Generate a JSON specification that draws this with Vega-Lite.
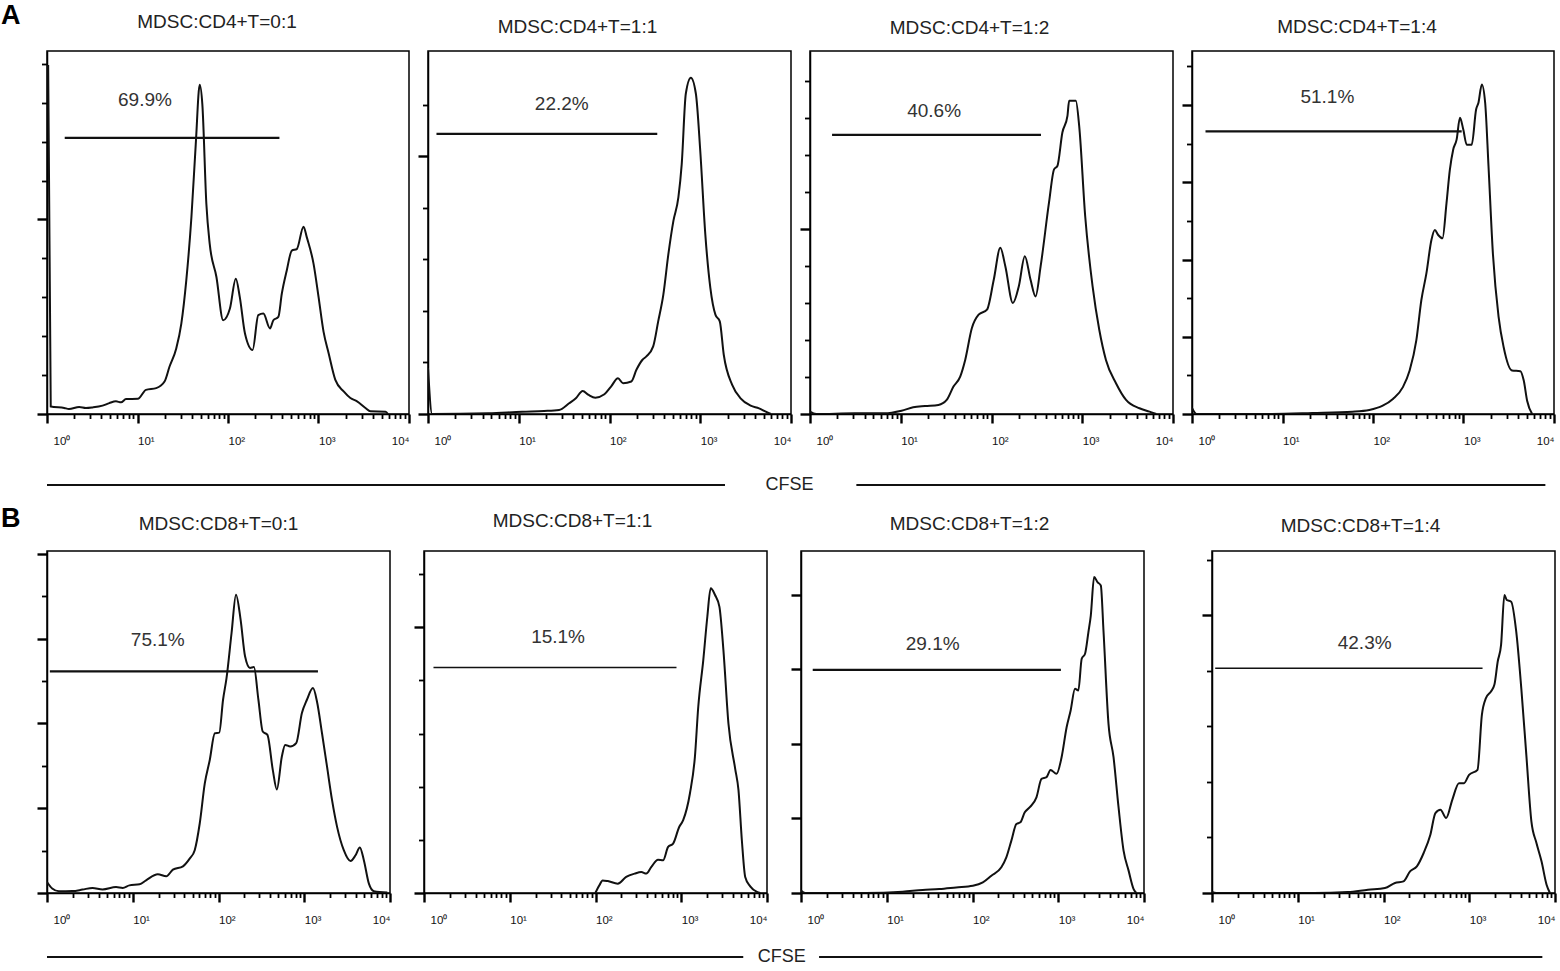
{
"$schema": "https://vega.github.io/schema/vega-lite/v6.json",
"background": "white",
"padding": {"left": 1, "top": 2, "right": 0, "bottom": 0},
"datasets": {
"curves": [
{"panel":"A1","cfse":1.03,"count":17.94},{"panel":"A1","cfse":1.10,"count":0.39},{"panel":"A1","cfse":1.55,"count":0.31},{"panel":"A1","cfse":1.75,"count":0.26},{"panel":"A1","cfse":2.27,"count":0.36},{"panel":"A1","cfse":2.69,"count":0.31},{"panel":"A1","cfse":3.19,"count":0.34},{"panel":"A1","cfse":4.11,"count":0.43},{"panel":"A1","cfse":4.88,"count":0.56},{"panel":"A1","cfse":5.78,"count":0.65},{"panel":"A1","cfse":6.58,"count":0.60},{"panel":"A1","cfse":7.47,"count":0.77},{"panel":"A1","cfse":10.1,"count":0.78},{"panel":"A1","cfse":12.4,"count":1.24},{"panel":"A1","cfse":16.1,"count":1.33},{"panel":"A1","cfse":19.9,"count":1.67},{"panel":"A1","cfse":22.6,"count":2.44},{"panel":"A1","cfse":26.8,"count":3.37},{"panel":"A1","cfse":30.5,"count":4.65},{"panel":"A1","cfse":34.6,"count":6.87},{"panel":"A1","cfse":39.4,"count":10.10},{"panel":"A1","cfse":44.0,"count":13.85},{"panel":"A1","cfse":48.7,"count":16.92},{"panel":"A1","cfse":52.1,"count":15.89},{"panel":"A1","cfse":57.7,"count":10.78},{"panel":"A1","cfse":62.8,"count":8.74},{"panel":"A1","cfse":74.5,"count":7.04},{"panel":"A1","cfse":88.4,"count":4.82},{"panel":"A1","cfse":105,"count":5.42},{"panel":"A1","cfse":122,"count":6.95},{"panel":"A1","cfse":135,"count":6.01},{"panel":"A1","cfse":154,"count":4.14},{"panel":"A1","cfse":187,"count":3.29},{"panel":"A1","cfse":216,"count":5.08},{"panel":"A1","cfse":246,"count":5.16},{"panel":"A1","cfse":291,"count":4.40},{"panel":"A1","cfse":317,"count":4.82},{"panel":"A1","cfse":360,"count":4.99},{"panel":"A1","cfse":393,"count":6.18},{"panel":"A1","cfse":446,"count":7.38},{"panel":"A1","cfse":507,"count":8.40},{"panel":"A1","cfse":576,"count":8.48},{"panel":"A1","cfse":683,"count":9.63},{"panel":"A1","cfse":743,"count":9.08},{"panel":"A1","cfse":882,"count":7.72},{"panel":"A1","cfse":1002,"count":6.01},{"panel":"A1","cfse":1138,"count":4.22},{"panel":"A1","cfse":1294,"count":3.12},{"panel":"A1","cfse":1535,"count":1.75},{"panel":"A1","cfse":1898,"count":1.16},{"panel":"A1","cfse":2251,"count":0.82},{"panel":"A1","cfse":2669,"count":0.65},{"panel":"A1","cfse":3302,"count":0.31},{"panel":"A1","cfse":3750,"count":0.14},{"panel":"A1","cfse":5510,"count":0.12},{"panel":"A1","cfse":5850,"count":0},
{"panel":"A2","cfse":1.0,"count":3.56},{"panel":"A2","cfse":1.11,"count":0},{"panel":"A2","cfse":4.64,"count":0.05},{"panel":"A2","cfse":10.9,"count":0.18},{"panel":"A2","cfse":19.0,"count":0.23},{"panel":"A2","cfse":27.8,"count":0.31},{"panel":"A2","cfse":35.9,"count":0.83},{"panel":"A2","cfse":42.6,"count":1.22},{"panel":"A2","cfse":50.6,"count":1.79},{"panel":"A2","cfse":58.9,"count":1.48},{"panel":"A2","cfse":69.8,"count":1.27},{"panel":"A2","cfse":87.9,"count":1.53},{"panel":"A2","cfse":104,"count":2.13},{"panel":"A2","cfse":124,"count":2.78},{"panel":"A2","cfse":141,"count":2.39},{"panel":"A2","cfse":174,"count":2.52},{"panel":"A2","cfse":198,"count":3.43},{"panel":"A2","cfse":231,"count":4.21},{"panel":"A2","cfse":255,"count":4.47},{"panel":"A2","cfse":303,"count":5.25},{"panel":"A2","cfse":344,"count":7.19},{"panel":"A2","cfse":392,"count":9.27},{"panel":"A2","cfse":445,"count":12.39},{"panel":"A2","cfse":506,"count":14.99},{"panel":"A2","cfse":574,"count":16.81},{"panel":"A2","cfse":625,"count":19.40},{"panel":"A2","cfse":693,"count":24.86},{"panel":"A2","cfse":788,"count":26.10},{"panel":"A2","cfse":895,"count":24.86},{"panel":"A2","cfse":1000,"count":20.44},{"panel":"A2","cfse":1137,"count":13.95},{"panel":"A2","cfse":1292,"count":9.79},{"panel":"A2","cfse":1469,"count":7.71},{"panel":"A2","cfse":1641,"count":7.19},{"panel":"A2","cfse":1816,"count":4.60},{"panel":"A2","cfse":2249,"count":2.26},{"panel":"A2","cfse":2782,"count":1.22},{"panel":"A2","cfse":3594,"count":0.65},{"panel":"A2","cfse":4449,"count":0.44},{"panel":"A2","cfse":5277,"count":0.18},{"panel":"A2","cfse":5994,"count":0},
{"panel":"A3","cfse":1.0,"count":0.13},{"panel":"A3","cfse":1.17,"count":0},{"panel":"A3","cfse":3.10,"count":0.04},{"panel":"A3","cfse":6.66,"count":0.04},{"panel":"A3","cfse":10.2,"count":0.18},{"panel":"A3","cfse":13.7,"count":0.36},{"panel":"A3","cfse":18.5,"count":0.43},{"panel":"A3","cfse":26.0,"count":0.49},{"panel":"A3","cfse":32.1,"count":0.76},{"panel":"A3","cfse":38.1,"count":1.48},{"panel":"A3","cfse":45.2,"count":2.02},{"panel":"A3","cfse":51.3,"count":2.92},{"panel":"A3","cfse":60.8,"count":4.64},{"panel":"A3","cfse":72.1,"count":5.36},{"panel":"A3","cfse":89.2,"count":5.63},{"panel":"A3","cfse":106,"count":7.26},{"panel":"A3","cfse":125,"count":8.97},{"panel":"A3","cfse":142,"count":7.98},{"panel":"A3","cfse":172,"count":5.99},{"panel":"A3","cfse":200,"count":6.90},{"panel":"A3","cfse":233,"count":8.52},{"panel":"A3","cfse":269,"count":7.26},{"panel":"A3","cfse":306,"count":6.35},{"panel":"A3","cfse":348,"count":7.98},{"panel":"A3","cfse":430,"count":11.41},{"panel":"A3","cfse":489,"count":13.21},{"panel":"A3","cfse":532,"count":13.39},{"panel":"A3","cfse":604,"count":15.2},{"panel":"A3","cfse":687,"count":16.1},{"panel":"A3","cfse":717,"count":16.91},{"panel":"A3","cfse":849,"count":16.91},{"panel":"A3","cfse":925,"count":15.56},{"panel":"A3","cfse":1077,"count":10.69},{"panel":"A3","cfse":1299,"count":6.90},{"panel":"A3","cfse":1540,"count":4.55},{"panel":"A3","cfse":1824,"count":2.92},{"panel":"A3","cfse":2353,"count":1.66},{"panel":"A3","cfse":3038,"count":0.76},{"panel":"A3","cfse":4270,"count":0.31},{"panel":"A3","cfse":5511,"count":0.13},{"panel":"A3","cfse":6534,"count":0},
{"panel":"A4","cfse":1.0,"count":0.31},{"panel":"A4","cfse":1.12,"count":0},{"panel":"A4","cfse":7.64,"count":0},{"panel":"A4","cfse":21.3,"count":0.05},{"panel":"A4","cfse":59.4,"count":0.12},{"panel":"A4","cfse":91.0,"count":0.21},{"panel":"A4","cfse":128,"count":0.43},{"panel":"A4","cfse":166,"count":0.78},{"panel":"A4","cfse":214,"count":1.39},{"panel":"A4","cfse":254,"count":2.25},{"panel":"A4","cfse":301,"count":3.81},{"panel":"A4","cfse":342,"count":5.89},{"panel":"A4","cfse":389,"count":7.28},{"panel":"A4","cfse":442,"count":9.01},{"panel":"A4","cfse":482,"count":9.53},{"panel":"A4","cfse":525,"count":9.27},{"panel":"A4","cfse":586,"count":9.10},{"panel":"A4","cfse":649,"count":10.92},{"panel":"A4","cfse":707,"count":12.65},{"panel":"A4","cfse":769,"count":13.69},{"panel":"A4","cfse":839,"count":14.21},{"panel":"A4","cfse":914,"count":15.34},{"panel":"A4","cfse":995,"count":14.73},{"panel":"A4","cfse":1084,"count":13.95},{"panel":"A4","cfse":1233,"count":13.95},{"panel":"A4","cfse":1378,"count":15.77},{"panel":"A4","cfse":1463,"count":16.12},{"panel":"A4","cfse":1594,"count":17.07},{"panel":"A4","cfse":1735,"count":16.12},{"panel":"A4","cfse":1890,"count":12.82},{"panel":"A4","cfse":2112,"count":8.32},{"panel":"A4","cfse":2442,"count":5.03},{"panel":"A4","cfse":2775,"count":3.47},{"panel":"A4","cfse":3436,"count":2.25},{"panel":"A4","cfse":4252,"count":2.22},{"panel":"A4","cfse":4632,"count":1.73},{"panel":"A4","cfse":5047,"count":0.69},{"panel":"A4","cfse":5736,"count":0},
{"panel":"B1","cfse":1.0,"count":0.52},{"panel":"B1","cfse":1.15,"count":0.21},{"panel":"B1","cfse":1.38,"count":0.08},{"panel":"B1","cfse":1.98,"count":0.09},{"panel":"B1","cfse":2.59,"count":0.16},{"panel":"B1","cfse":3.40,"count":0.24},{"panel":"B1","cfse":4.45,"count":0.17},{"panel":"B1","cfse":6.38,"count":0.28},{"panel":"B1","cfse":7.64,"count":0.24},{"panel":"B1","cfse":9.14,"count":0.36},{"panel":"B1","cfse":12.0,"count":0.41},{"panel":"B1","cfse":14.3,"count":0.60},{"panel":"B1","cfse":19.6,"count":0.88},{"panel":"B1","cfse":24.6,"count":0.79},{"panel":"B1","cfse":29.4,"count":1.10},{"panel":"B1","cfse":38.5,"count":1.26},{"panel":"B1","cfse":46.1,"count":1.62},{"panel":"B1","cfse":52.8,"count":2.02},{"panel":"B1","cfse":60.4,"count":3.28},{"panel":"B1","cfse":69.2,"count":5.17},{"panel":"B1","cfse":79.1,"count":6.28},{"panel":"B1","cfse":90.6,"count":7.54},{"panel":"B1","cfse":102,"count":7.57},{"panel":"B1","cfse":113,"count":9.12},{"panel":"B1","cfse":124,"count":10.14},{"panel":"B1","cfse":142,"count":12.27},{"panel":"B1","cfse":160,"count":14.08},{"panel":"B1","cfse":181,"count":12.90},{"panel":"B1","cfse":204,"count":11.17},{"panel":"B1","cfse":233,"count":10.62},{"panel":"B1","cfse":259,"count":10.66},{"panel":"B1","cfse":292,"count":9.12},{"panel":"B1","cfse":328,"count":7.62},{"panel":"B1","cfse":372,"count":7.46},{"panel":"B1","cfse":430,"count":5.80},{"panel":"B1","cfse":479,"count":4.89},{"panel":"B1","cfse":548,"count":6.44},{"panel":"B1","cfse":599,"count":6.99},{"panel":"B1","cfse":685,"count":6.91},{"panel":"B1","cfse":806,"count":7.07},{"panel":"B1","cfse":939,"count":8.49},{"panel":"B1","cfse":1074,"count":9.12},{"panel":"B1","cfse":1264,"count":9.67},{"panel":"B1","cfse":1407,"count":9.04},{"panel":"B1","cfse":1611,"count":7.54},{"panel":"B1","cfse":1844,"count":5.96},{"panel":"B1","cfse":2110,"count":4.38},{"panel":"B1","cfse":2415,"count":3.12},{"panel":"B1","cfse":2891,"count":2.02},{"panel":"B1","cfse":3459,"count":1.51},{"panel":"B1","cfse":3962,"count":1.78},{"panel":"B1","cfse":4448,"count":2.15},{"panel":"B1","cfse":4955,"count":1.55},{"panel":"B1","cfse":5675,"count":0.44},{"panel":"B1","cfse":6497,"count":0.08},{"panel":"B1","cfse":9310,"count":0.02},
{"panel":"B2","cfse":99.6,"count":0},{"panel":"B2","cfse":111,"count":0.58},{"panel":"B2","cfse":121,"count":0.95},{"panel":"B2","cfse":139,"count":0.90},{"panel":"B2","cfse":182,"count":0.70},{"panel":"B2","cfse":228,"count":1.21},{"panel":"B2","cfse":286,"count":1.46},{"panel":"B2","cfse":342,"count":1.58},{"panel":"B2","cfse":391,"count":1.46},{"panel":"B2","cfse":448,"count":1.96},{"panel":"B2","cfse":536,"count":2.51},{"panel":"B2","cfse":614,"count":2.46},{"panel":"B2","cfse":703,"count":3.47},{"panel":"B2","cfse":804,"count":3.72},{"panel":"B2","cfse":946,"count":4.97},{"panel":"B2","cfse":1053,"count":5.48},{"panel":"B2","cfse":1262,"count":7.49},{"panel":"B2","cfse":1443,"count":10.25},{"panel":"B2","cfse":1579,"count":14.02},{"panel":"B2","cfse":1807,"count":17.54},{"panel":"B2","cfse":2014,"count":20.80},{"panel":"B2","cfse":2204,"count":22.94},{"panel":"B2","cfse":2477,"count":22.44},{"panel":"B2","cfse":2785,"count":21.56},{"panel":"B2","cfse":3103,"count":18.29},{"panel":"B2","cfse":3550,"count":12.76},{"panel":"B2","cfse":4252,"count":9.37},{"panel":"B2","cfse":4650,"count":7.74},{"panel":"B2","cfse":5091,"count":3.97},{"panel":"B2","cfse":5570,"count":1.21},{"panel":"B2","cfse":6371,"count":0.50},{"panel":"B2","cfse":7637,"count":0.08},{"panel":"B2","cfse":8350,"count":0},
{"panel":"B3","cfse":1.0,"count":0.13},{"panel":"B3","cfse":1.12,"count":0},{"panel":"B3","cfse":2.53,"count":0},{"panel":"B3","cfse":5.67,"count":0},{"panel":"B3","cfse":15.3,"count":0.07},{"panel":"B3","cfse":26.2,"count":0.16},{"panel":"B3","cfse":41.0,"count":0.21},{"panel":"B3","cfse":64.4,"count":0.30},{"panel":"B3","cfse":101,"count":0.39},{"panel":"B3","cfse":132,"count":0.57},{"panel":"B3","cfse":166,"count":0.93},{"panel":"B3","cfse":217,"count":1.38},{"panel":"B3","cfse":248,"count":1.91},{"panel":"B3","cfse":284,"count":2.81},{"panel":"B3","cfse":325,"count":3.70},{"panel":"B3","cfse":362,"count":3.79},{"panel":"B3","cfse":407,"count":4.33},{"panel":"B3","cfse":466,"count":4.60},{"panel":"B3","cfse":557,"count":5.13},{"panel":"B3","cfse":638,"count":6.12},{"panel":"B3","cfse":730,"count":6.21},{"panel":"B3","cfse":813,"count":6.60},{"panel":"B3","cfse":955,"count":6.39},{"panel":"B3","cfse":1094,"count":7.28},{"panel":"B3","cfse":1252,"count":8.89},{"panel":"B3","cfse":1395,"count":9.79},{"panel":"B3","cfse":1568,"count":10.95},{"panel":"B3","cfse":1715,"count":10.86},{"panel":"B3","cfse":1877,"count":12.56},{"panel":"B3","cfse":2054,"count":12.83},{"panel":"B3","cfse":2248,"count":13.99},{"panel":"B3","cfse":2396,"count":14.88},{"panel":"B3","cfse":2620,"count":16.94},{"panel":"B3","cfse":2867,"count":16.67},{"panel":"B3","cfse":3136,"count":16.49},{"panel":"B3","cfse":3368,"count":14.08},{"panel":"B3","cfse":3855,"count":9.07},{"panel":"B3","cfse":4413,"count":7.28},{"panel":"B3","cfse":5047,"count":4.60},{"panel":"B3","cfse":5777,"count":2.27},{"panel":"B3","cfse":6613,"count":1.20},{"panel":"B3","cfse":7567,"count":0.21},{"panel":"B3","cfse":8130,"count":0},
{"panel":"B4","cfse":1.0,"count":0.07},{"panel":"B4","cfse":1.12,"count":0},{"panel":"B4","cfse":5.24,"count":0},{"panel":"B4","cfse":15.5,"count":0},{"panel":"B4","cfse":38.3,"count":0.07},{"panel":"B4","cfse":65.9,"count":0.24},{"panel":"B4","cfse":104,"count":0.36},{"panel":"B4","cfse":136,"count":0.72},{"panel":"B4","cfse":171,"count":0.84},{"panel":"B4","cfse":204,"count":1.56},{"panel":"B4","cfse":245,"count":1.92},{"panel":"B4","cfse":294,"count":2.88},{"panel":"B4","cfse":352,"count":4.20},{"panel":"B4","cfse":403,"count":5.76},{"panel":"B4","cfse":462,"count":6.00},{"panel":"B4","cfse":538,"count":5.40},{"panel":"B4","cfse":634,"count":6.71},{"panel":"B4","cfse":759,"count":7.91},{"panel":"B4","cfse":869,"count":7.91},{"panel":"B4","cfse":995,"count":8.51},{"panel":"B4","cfse":1248,"count":8.87},{"panel":"B4","cfse":1404,"count":12.83},{"panel":"B4","cfse":1565,"count":14.03},{"panel":"B4","cfse":1792,"count":14.51},{"panel":"B4","cfse":1963,"count":14.99},{"panel":"B4","cfse":2148,"count":16.67},{"panel":"B4","cfse":2350,"count":17.87},{"panel":"B4","cfse":2570,"count":21.46},{"panel":"B4","cfse":2740,"count":21.10},{"panel":"B4","cfse":3083,"count":20.98},{"panel":"B4","cfse":3532,"count":18.82},{"panel":"B4","cfse":4044,"count":14.75},{"panel":"B4","cfse":4630,"count":9.95},{"panel":"B4","cfse":5304,"count":5.16},{"panel":"B4","cfse":6077,"count":3.60},{"panel":"B4","cfse":6961,"count":2.28},{"panel":"B4","cfse":7975,"count":0.60},{"panel":"B4","cfse":8730,"count":0}
],
"gates": [
{"panel":"A1","start":1.57,"end":370,"level":14.19,"percent":"69.9%","labelX":12.1,"labelY":16.15},
{"panel":"A2","start":1.24,"end":336,"level":21.74,"percent":"22.2%","labelX":29.8,"labelY":24.08},
{"panel":"A3","start":1.75,"end":351,"level":15.07,"percent":"40.6%","labelX":23.3,"labelY":16.34},
{"panel":"A4","start":1.41,"end":955,"level":14.64,"percent":"51.1%","labelX":31.3,"labelY":16.43},
{"panel":"B1","start":1.08,"end":1445,"level":10.46,"percent":"75.1%","labelX":19.6,"labelY":11.96},
{"panel":"B2","start":1.29,"end":880,"level":16.98,"percent":"15.1%","labelX":36.6,"labelY":19.30},
{"panel":"B3","start":1.37,"end":1074,"level":11.97,"percent":"29.1%","labelX":34.3,"labelY":13.33},
{"panel":"B4","start":1.09,"end":1429,"level":16.19,"percent":"42.3%","labelX":60.3,"labelY":17.99}
],
"cfseRules": [
{"row":"A","start":0.0,"end":0.4490,"level":0.293},
{"row":"A","start":0.5360,"end":0.9923,"level":0.293},
{"row":"B","start":0.0,"end":0.4611,"level":0.389},
{"row":"B","start":0.5113,"end":0.9903,"level":0.389}
],
"cfseLabels": [
{"row":"A","pos":0.4918,"level":0.293,"label":"CFSE"},
{"row":"B","pos":0.4866,"level":0.389,"label":"CFSE"}
]
},
"vconcat": [
{
"title": {"text": "A", "orient": "left", "angle": 0, "anchor": "end", "align": "right", "baseline": "top", "fontSize": 27, "fontWeight": "bold", "color": "#000", "offset": -5, "dy": -9},
"spacing": 5,
"hconcat": [
{"width": 362, "height": 363, "title": {"text": "MDSC:CD4+T=0:1", "dx": -11, "offset": 19},
"layer": [
{"data": {"name": "curves"}, "transform": [{"filter": "datum.panel == 'A1'"}], "mark": {"type": "line", "color": "#111", "strokeWidth": 2, "clip": true, "interpolate": "monotone"},
"encoding": {
"x": {"field": "cfse", "type": "quantitative", "scale": {"type": "log", "domain": [1, 10000]}, "axis": {"title": null, "values": [1,2,3,4,5,6,7,8,9,10,20,30,40,50,60,70,80,90,100,200,300,400,500,600,700,800,900,1000,2000,3000,4000,5000,6000,7000,8000,9000,10000], "labelExpr": "datum.value == 1 ? '10⁰' : datum.value == 10 ? '10¹' : datum.value == 100 ? '10²' : datum.value == 1000 ? '10³' : datum.value == 10000 ? '10⁴' : ''", "labelOverlap": false, "labelFlush": false, "labelAlign": {"condition": {"test": "datum.value == 10000", "value": "right"}, "value": "left"}, "labelOffset": {"condition": {"test": "datum.value == 1", "value": 6}, "value": 0}, "labelPadding": 12, "labelFontSize": 11.5, "labelColor": "#111", "tickSize": {"condition": {"test": "indexof([1,10,100,1000,10000], datum.value) >= 0", "value": 9}, "value": 4.5}, "tickWidth": {"condition": {"test": "indexof([1,10,100,1000,10000], datum.value) >= 0", "value": 2.4}, "value": 1.8}, "tickColor": "#000", "domainColor": "#000", "domainWidth": 1.5, "grid": false}},
"y": {"field": "count", "type": "quantitative", "scale": {"domain": [0, 18.66], "nice": false}, "axis": {"title": null, "labels": false, "values": [0,1,2,3,4,5,6,7,8,9,10,11,12,13,14,15,16,17,18], "tickSize": {"condition": {"test": "datum.value % 5 == 0", "value": 10}, "value": 5.5}, "tickWidth": {"condition": {"test": "datum.value % 5 == 0", "value": 2.4}, "value": 1.8}, "tickColor": "#000", "domainColor": "#000", "domainWidth": 1.5, "grid": false}}
}},
{"data": {"name": "gates"}, "transform": [{"filter": "datum.panel == 'A1'"}], "mark": {"type": "rule", "color": "#111", "strokeWidth": 2.2},
"encoding": {"x": {"field": "start", "type": "quantitative", "scale": {"type": "log"}, "axis": {"title": null}}, "x2": {"field": "end"}, "y": {"field": "level", "type": "quantitative", "axis": {"title": null}}}},
{"data": {"name": "gates"}, "transform": [{"filter": "datum.panel == 'A1'"}], "mark": {"type": "text", "fontSize": 19, "color": "#333"},
"encoding": {"x": {"field": "labelX", "type": "quantitative", "scale": {"type": "log"}, "axis": {"title": null}}, "y": {"field": "labelY", "type": "quantitative", "axis": {"title": null}}, "text": {"field": "percent"}}}
]},
{"width": 363, "height": 363, "title": {"text": "MDSC:CD4+T=1:1", "dx": -32, "offset": 14},
"layer": [
{"data": {"name": "curves"}, "transform": [{"filter": "datum.panel == 'A2'"}], "mark": {"type": "line", "color": "#111", "strokeWidth": 2, "clip": true, "interpolate": "monotone"},
"encoding": {
"x": {"field": "cfse", "type": "quantitative", "scale": {"type": "log", "domain": [1, 10000]}, "axis": {"title": null, "values": [1,2,3,4,5,6,7,8,9,10,20,30,40,50,60,70,80,90,100,200,300,400,500,600,700,800,900,1000,2000,3000,4000,5000,6000,7000,8000,9000,10000], "labelExpr": "datum.value == 1 ? '10⁰' : datum.value == 10 ? '10¹' : datum.value == 100 ? '10²' : datum.value == 1000 ? '10³' : datum.value == 10000 ? '10⁴' : ''", "labelOverlap": false, "labelFlush": false, "labelAlign": {"condition": {"test": "datum.value == 10000", "value": "right"}, "value": "left"}, "labelOffset": {"condition": {"test": "datum.value == 1", "value": 6}, "value": 0}, "labelPadding": 12, "labelFontSize": 11.5, "labelColor": "#111", "tickSize": {"condition": {"test": "indexof([1,10,100,1000,10000], datum.value) >= 0", "value": 9}, "value": 4.5}, "tickWidth": {"condition": {"test": "indexof([1,10,100,1000,10000], datum.value) >= 0", "value": 2.4}, "value": 1.8}, "tickColor": "#000", "domainColor": "#000", "domainWidth": 1.5, "grid": false}},
"y": {"field": "count", "type": "quantitative", "scale": {"domain": [0, 28.18], "nice": false}, "axis": {"title": null, "labels": false, "values": [0,1,2,3,4,5,6,7,8,9,10,11,12,13,14,15,16,17,18,19,20,21,22,23,24,25,26,27], "tickSize": {"condition": {"test": "datum.value % 5 == 0", "value": 10}, "value": 5.5}, "tickWidth": {"condition": {"test": "datum.value % 5 == 0", "value": 2.4}, "value": 1.8}, "tickColor": "#000", "domainColor": "#000", "domainWidth": 1.5, "grid": false}}
}},
{"data": {"name": "gates"}, "transform": [{"filter": "datum.panel == 'A2'"}], "mark": {"type": "rule", "color": "#111", "strokeWidth": 2.2},
"encoding": {"x": {"field": "start", "type": "quantitative", "scale": {"type": "log"}, "axis": {"title": null}}, "x2": {"field": "end"}, "y": {"field": "level", "type": "quantitative", "axis": {"title": null}}}},
{"data": {"name": "gates"}, "transform": [{"filter": "datum.panel == 'A2'"}], "mark": {"type": "text", "fontSize": 19, "color": "#333"},
"encoding": {"x": {"field": "labelX", "type": "quantitative", "scale": {"type": "log"}, "axis": {"title": null}}, "y": {"field": "labelY", "type": "quantitative", "axis": {"title": null}}, "text": {"field": "percent"}}}
]},
{"width": 363, "height": 363, "title": {"text": "MDSC:CD4+T=1:2", "dx": -22, "offset": 13},
"layer": [
{"data": {"name": "curves"}, "transform": [{"filter": "datum.panel == 'A3'"}], "mark": {"type": "line", "color": "#111", "strokeWidth": 2, "clip": true, "interpolate": "monotone"},
"encoding": {
"x": {"field": "cfse", "type": "quantitative", "scale": {"type": "log", "domain": [1, 10000]}, "axis": {"title": null, "values": [1,2,3,4,5,6,7,8,9,10,20,30,40,50,60,70,80,90,100,200,300,400,500,600,700,800,900,1000,2000,3000,4000,5000,6000,7000,8000,9000,10000], "labelExpr": "datum.value == 1 ? '10⁰' : datum.value == 10 ? '10¹' : datum.value == 100 ? '10²' : datum.value == 1000 ? '10³' : datum.value == 10000 ? '10⁴' : ''", "labelOverlap": false, "labelFlush": false, "labelAlign": {"condition": {"test": "datum.value == 10000", "value": "right"}, "value": "left"}, "labelOffset": {"condition": {"test": "datum.value == 1", "value": 6}, "value": 0}, "labelPadding": 12, "labelFontSize": 11.5, "labelColor": "#111", "tickSize": {"condition": {"test": "indexof([1,10,100,1000,10000], datum.value) >= 0", "value": 9}, "value": 4.5}, "tickWidth": {"condition": {"test": "indexof([1,10,100,1000,10000], datum.value) >= 0", "value": 2.4}, "value": 1.8}, "tickColor": "#000", "domainColor": "#000", "domainWidth": 1.5, "grid": false}},
"y": {"field": "count", "type": "quantitative", "scale": {"domain": [0, 19.6], "nice": false}, "axis": {"title": null, "labels": false, "values": [0,1,2,3,4,5,6,7,8,9,10,11,12,13,14,15,16,17,18,19], "tickSize": {"condition": {"test": "datum.value % 5 == 0", "value": 10}, "value": 5.5}, "tickWidth": {"condition": {"test": "datum.value % 5 == 0", "value": 2.4}, "value": 1.8}, "tickColor": "#000", "domainColor": "#000", "domainWidth": 1.5, "grid": false}}
}},
{"data": {"name": "gates"}, "transform": [{"filter": "datum.panel == 'A3'"}], "mark": {"type": "rule", "color": "#111", "strokeWidth": 2.2},
"encoding": {"x": {"field": "start", "type": "quantitative", "scale": {"type": "log"}, "axis": {"title": null}}, "x2": {"field": "end"}, "y": {"field": "level", "type": "quantitative", "axis": {"title": null}}}},
{"data": {"name": "gates"}, "transform": [{"filter": "datum.panel == 'A3'"}], "mark": {"type": "text", "fontSize": 19, "color": "#333"},
"encoding": {"x": {"field": "labelX", "type": "quantitative", "scale": {"type": "log"}, "axis": {"title": null}}, "y": {"field": "labelY", "type": "quantitative", "axis": {"title": null}}, "text": {"field": "percent"}}}
]},
{"width": 362, "height": 363, "title": {"text": "MDSC:CD4+T=1:4", "dx": -16, "offset": 14},
"layer": [
{"data": {"name": "curves"}, "transform": [{"filter": "datum.panel == 'A4'"}], "mark": {"type": "line", "color": "#111", "strokeWidth": 2, "clip": true, "interpolate": "monotone"},
"encoding": {
"x": {"field": "cfse", "type": "quantitative", "scale": {"type": "log", "domain": [1, 10000]}, "axis": {"title": null, "values": [1,2,3,4,5,6,7,8,9,10,20,30,40,50,60,70,80,90,100,200,300,400,500,600,700,800,900,1000,2000,3000,4000,5000,6000,7000,8000,9000,10000], "labelExpr": "datum.value == 1 ? '10⁰' : datum.value == 10 ? '10¹' : datum.value == 100 ? '10²' : datum.value == 1000 ? '10³' : datum.value == 10000 ? '10⁴' : ''", "labelOverlap": false, "labelFlush": false, "labelAlign": {"condition": {"test": "datum.value == 10000", "value": "right"}, "value": "left"}, "labelOffset": {"condition": {"test": "datum.value == 1", "value": 6}, "value": 0}, "labelPadding": 12, "labelFontSize": 11.5, "labelColor": "#111", "tickSize": {"condition": {"test": "indexof([1,10,100,1000,10000], datum.value) >= 0", "value": 9}, "value": 4.5}, "tickWidth": {"condition": {"test": "indexof([1,10,100,1000,10000], datum.value) >= 0", "value": 2.4}, "value": 1.8}, "tickColor": "#000", "domainColor": "#000", "domainWidth": 1.5, "grid": false}},
"y": {"field": "count", "type": "quantitative", "scale": {"domain": [0, 18.8], "nice": false}, "axis": {"title": null, "labels": false, "values": [0,1,2,3,4,5,6,7,8,9,10,11,12,13,14,15,16,17,18], "tickSize": {"condition": {"test": "datum.value % 4 == 0", "value": 10}, "value": 5.5}, "tickWidth": {"condition": {"test": "datum.value % 4 == 0", "value": 2.4}, "value": 1.8}, "tickColor": "#000", "domainColor": "#000", "domainWidth": 1.5, "grid": false}}
}},
{"data": {"name": "gates"}, "transform": [{"filter": "datum.panel == 'A4'"}], "mark": {"type": "rule", "color": "#111", "strokeWidth": 2.2},
"encoding": {"x": {"field": "start", "type": "quantitative", "scale": {"type": "log"}, "axis": {"title": null}}, "x2": {"field": "end"}, "y": {"field": "level", "type": "quantitative", "axis": {"title": null}}}},
{"data": {"name": "gates"}, "transform": [{"filter": "datum.panel == 'A4'"}], "mark": {"type": "text", "fontSize": 19, "color": "#333"},
"encoding": {"x": {"field": "labelX", "type": "quantitative", "scale": {"type": "log"}, "axis": {"title": null}}, "y": {"field": "labelY", "type": "quantitative", "axis": {"title": null}}, "text": {"field": "percent"}}}
]}
]
},
{"width": 1510, "height": 41, "view": {"stroke": null},
"layer": [
{"data": {"name": "cfseRules"}, "transform": [{"filter": "datum.row == 'A'"}], "mark": {"type": "rule", "color": "#111", "strokeWidth": 2},
"encoding": {"x": {"field": "start", "type": "quantitative", "scale": {"domain": [0, 1]}, "axis": null}, "x2": {"field": "end"}, "y": {"field": "level", "type": "quantitative", "scale": {"domain": [0, 1]}, "axis": null}}},
{"data": {"name": "cfseLabels"}, "transform": [{"filter": "datum.row == 'A'"}], "mark": {"type": "text", "fontSize": 18, "color": "#222"},
"encoding": {"x": {"field": "pos", "type": "quantitative", "axis": null}, "y": {"field": "level", "type": "quantitative", "axis": null}, "text": {"field": "label"}}}
]},
{
"title": {"text": "B", "orient": "left", "angle": 0, "anchor": "end", "align": "right", "baseline": "top", "fontSize": 27, "fontWeight": "bold", "color": "#000", "offset": -5, "dy": -5},
"spacing": 54,
"hconcat": [
{"spacing": 20, "hconcat": [
{"width": 343, "height": 342, "title": {"text": "MDSC:CD8+T=0:1", "dx": 0, "offset": 17},
"layer": [
{"data": {"name": "curves"}, "transform": [{"filter": "datum.panel == 'B1'"}], "mark": {"type": "line", "color": "#111", "strokeWidth": 2, "clip": true, "interpolate": "monotone"},
"encoding": {
"x": {"field": "cfse", "type": "quantitative", "scale": {"type": "log", "domain": [1, 10000]}, "axis": {"title": null, "values": [1,2,3,4,5,6,7,8,9,10,20,30,40,50,60,70,80,90,100,200,300,400,500,600,700,800,900,1000,2000,3000,4000,5000,6000,7000,8000,9000,10000], "labelExpr": "datum.value == 1 ? '10⁰' : datum.value == 10 ? '10¹' : datum.value == 100 ? '10²' : datum.value == 1000 ? '10³' : datum.value == 10000 ? '10⁴' : ''", "labelOverlap": false, "labelFlush": false, "labelAlign": {"condition": {"test": "datum.value == 10000", "value": "right"}, "value": "left"}, "labelOffset": {"condition": {"test": "datum.value == 1", "value": 6}, "value": 0}, "labelPadding": 12, "labelFontSize": 11.5, "labelColor": "#111", "tickSize": {"condition": {"test": "indexof([1,10,100,1000,10000], datum.value) >= 0", "value": 9}, "value": 4.5}, "tickWidth": {"condition": {"test": "indexof([1,10,100,1000,10000], datum.value) >= 0", "value": 2.4}, "value": 1.8}, "tickColor": "#000", "domainColor": "#000", "domainWidth": 1.5, "grid": false}},
"y": {"field": "count", "type": "quantitative", "scale": {"domain": [0, 16.14], "nice": false}, "axis": {"title": null, "labels": false, "values": [0,1,2,3,4,5,6,7,8,9,10,11,12,13,14,15,16], "tickSize": {"condition": {"test": "datum.value % 4 == 0", "value": 10}, "value": 5.5}, "tickWidth": {"condition": {"test": "datum.value % 4 == 0", "value": 2.4}, "value": 1.8}, "tickColor": "#000", "domainColor": "#000", "domainWidth": 1.5, "grid": false}}
}},
{"data": {"name": "gates"}, "transform": [{"filter": "datum.panel == 'B1'"}], "mark": {"type": "rule", "color": "#111", "strokeWidth": 2.2},
"encoding": {"x": {"field": "start", "type": "quantitative", "scale": {"type": "log"}, "axis": {"title": null}}, "x2": {"field": "end"}, "y": {"field": "level", "type": "quantitative", "axis": {"title": null}}}},
{"data": {"name": "gates"}, "transform": [{"filter": "datum.panel == 'B1'"}], "mark": {"type": "text", "fontSize": 19, "color": "#333"},
"encoding": {"x": {"field": "labelX", "type": "quantitative", "scale": {"type": "log"}, "axis": {"title": null}}, "y": {"field": "labelY", "type": "quantitative", "axis": {"title": null}}, "text": {"field": "percent"}}}
]},
{"width": 343, "height": 342, "title": {"text": "MDSC:CD8+T=1:1", "dx": -23, "offset": 20},
"layer": [
{"data": {"name": "curves"}, "transform": [{"filter": "datum.panel == 'B2'"}], "mark": {"type": "line", "color": "#111", "strokeWidth": 2, "clip": true, "interpolate": "monotone"},
"encoding": {
"x": {"field": "cfse", "type": "quantitative", "scale": {"type": "log", "domain": [1, 10000]}, "axis": {"title": null, "values": [1,2,3,4,5,6,7,8,9,10,20,30,40,50,60,70,80,90,100,200,300,400,500,600,700,800,900,1000,2000,3000,4000,5000,6000,7000,8000,9000,10000], "labelExpr": "datum.value == 1 ? '10⁰' : datum.value == 10 ? '10¹' : datum.value == 100 ? '10²' : datum.value == 1000 ? '10³' : datum.value == 10000 ? '10⁴' : ''", "labelOverlap": false, "labelFlush": false, "labelAlign": {"condition": {"test": "datum.value == 10000", "value": "right"}, "value": "left"}, "labelOffset": {"condition": {"test": "datum.value == 1", "value": 6}, "value": 0}, "labelPadding": 12, "labelFontSize": 11.5, "labelColor": "#111", "tickSize": {"condition": {"test": "indexof([1,10,100,1000,10000], datum.value) >= 0", "value": 9}, "value": 4.5}, "tickWidth": {"condition": {"test": "indexof([1,10,100,1000,10000], datum.value) >= 0", "value": 2.4}, "value": 1.8}, "tickColor": "#000", "domainColor": "#000", "domainWidth": 1.5, "grid": false}},
"y": {"field": "count", "type": "quantitative", "scale": {"domain": [0, 25.75], "nice": false}, "axis": {"title": null, "labels": false, "values": [0,1,2,3,4,5,6,7,8,9,10,11,12,13,14,15,16,17,18,19,20,21,22,23,24,25], "tickSize": {"condition": {"test": "datum.value % 5 == 0", "value": 10}, "value": 5.5}, "tickWidth": {"condition": {"test": "datum.value % 5 == 0", "value": 2.4}, "value": 1.8}, "tickColor": "#000", "domainColor": "#000", "domainWidth": 1.5, "grid": false}}
}},
{"data": {"name": "gates"}, "transform": [{"filter": "datum.panel == 'B2'"}], "mark": {"type": "rule", "color": "#111", "strokeWidth": 1.6},
"encoding": {"x": {"field": "start", "type": "quantitative", "scale": {"type": "log"}, "axis": {"title": null}}, "x2": {"field": "end"}, "y": {"field": "level", "type": "quantitative", "axis": {"title": null}}}},
{"data": {"name": "gates"}, "transform": [{"filter": "datum.panel == 'B2'"}], "mark": {"type": "text", "fontSize": 19, "color": "#333"},
"encoding": {"x": {"field": "labelX", "type": "quantitative", "scale": {"type": "log"}, "axis": {"title": null}}, "y": {"field": "labelY", "type": "quantitative", "axis": {"title": null}}, "text": {"field": "percent"}}}
]},
{"width": 343, "height": 342, "title": {"text": "MDSC:CD8+T=1:2", "dx": -3, "offset": 17},
"layer": [
{"data": {"name": "curves"}, "transform": [{"filter": "datum.panel == 'B3'"}], "mark": {"type": "line", "color": "#111", "strokeWidth": 2, "clip": true, "interpolate": "monotone"},
"encoding": {
"x": {"field": "cfse", "type": "quantitative", "scale": {"type": "log", "domain": [1, 10000]}, "axis": {"title": null, "values": [1,2,3,4,5,6,7,8,9,10,20,30,40,50,60,70,80,90,100,200,300,400,500,600,700,800,900,1000,2000,3000,4000,5000,6000,7000,8000,9000,10000], "labelExpr": "datum.value == 1 ? '10⁰' : datum.value == 10 ? '10¹' : datum.value == 100 ? '10²' : datum.value == 1000 ? '10³' : datum.value == 10000 ? '10⁴' : ''", "labelOverlap": false, "labelFlush": false, "labelAlign": {"condition": {"test": "datum.value == 10000", "value": "right"}, "value": "left"}, "labelOffset": {"condition": {"test": "datum.value == 1", "value": 6}, "value": 0}, "labelPadding": 12, "labelFontSize": 11.5, "labelColor": "#111", "tickSize": {"condition": {"test": "indexof([1,10,100,1000,10000], datum.value) >= 0", "value": 9}, "value": 4.5}, "tickWidth": {"condition": {"test": "indexof([1,10,100,1000,10000], datum.value) >= 0", "value": 2.4}, "value": 1.8}, "tickColor": "#000", "domainColor": "#000", "domainWidth": 1.5, "grid": false}},
"y": {"field": "count", "type": "quantitative", "scale": {"domain": [0, 18.34], "nice": false}, "axis": {"title": null, "labels": false, "values": [0,1,2,3,4,5,6,7,8,9,10,11,12,13,14,15,16,17,18], "tickSize": {"condition": {"test": "datum.value % 4 == 0", "value": 10}, "value": 5.5}, "tickWidth": {"condition": {"test": "datum.value % 4 == 0", "value": 2.4}, "value": 1.8}, "tickColor": "#000", "domainColor": "#000", "domainWidth": 1.5, "grid": false}}
}},
{"data": {"name": "gates"}, "transform": [{"filter": "datum.panel == 'B3'"}], "mark": {"type": "rule", "color": "#111", "strokeWidth": 2.2},
"encoding": {"x": {"field": "start", "type": "quantitative", "scale": {"type": "log"}, "axis": {"title": null}}, "x2": {"field": "end"}, "y": {"field": "level", "type": "quantitative", "axis": {"title": null}}}},
{"data": {"name": "gates"}, "transform": [{"filter": "datum.panel == 'B3'"}], "mark": {"type": "text", "fontSize": 19, "color": "#333"},
"encoding": {"x": {"field": "labelX", "type": "quantitative", "scale": {"type": "log"}, "axis": {"title": null}}, "y": {"field": "labelY", "type": "quantitative", "axis": {"title": null}}, "text": {"field": "percent"}}}
]}
]},
{"hconcat": [
{"width": 343, "height": 342, "title": {"text": "MDSC:CD8+T=1:4", "dx": -23, "offset": 15},
"layer": [
{"data": {"name": "curves"}, "transform": [{"filter": "datum.panel == 'B4'"}], "mark": {"type": "line", "color": "#111", "strokeWidth": 2, "clip": true, "interpolate": "monotone"},
"encoding": {
"x": {"field": "cfse", "type": "quantitative", "scale": {"type": "log", "domain": [1, 10000]}, "axis": {"title": null, "values": [1,2,3,4,5,6,7,8,9,10,20,30,40,50,60,70,80,90,100,200,300,400,500,600,700,800,900,1000,2000,3000,4000,5000,6000,7000,8000,9000,10000], "labelExpr": "datum.value == 1 ? '10⁰' : datum.value == 10 ? '10¹' : datum.value == 100 ? '10²' : datum.value == 1000 ? '10³' : datum.value == 10000 ? '10⁴' : ''", "labelOverlap": false, "labelFlush": false, "labelAlign": {"condition": {"test": "datum.value == 10000", "value": "right"}, "value": "left"}, "labelOffset": {"condition": {"test": "datum.value == 1", "value": 6}, "value": 0}, "labelPadding": 12, "labelFontSize": 11.5, "labelColor": "#111", "tickSize": {"condition": {"test": "indexof([1,10,100,1000,10000], datum.value) >= 0", "value": 9}, "value": 4.5}, "tickWidth": {"condition": {"test": "indexof([1,10,100,1000,10000], datum.value) >= 0", "value": 2.4}, "value": 1.8}, "tickColor": "#000", "domainColor": "#000", "domainWidth": 1.5, "grid": false}},
"y": {"field": "count", "type": "quantitative", "scale": {"domain": [0, 24.63], "nice": false}, "axis": {"title": null, "labels": false, "values": [0,1,2,3,4,5,6,7,8,9,10,11,12,13,14,15,16,17,18,19,20,21,22,23,24], "tickSize": {"condition": {"test": "datum.value % 5 == 0", "value": 10}, "value": 5.5}, "tickWidth": {"condition": {"test": "datum.value % 5 == 0", "value": 2.4}, "value": 1.8}, "tickColor": "#000", "domainColor": "#000", "domainWidth": 1.5, "grid": false}}
}},
{"data": {"name": "gates"}, "transform": [{"filter": "datum.panel == 'B4'"}], "mark": {"type": "rule", "color": "#111", "strokeWidth": 1.6},
"encoding": {"x": {"field": "start", "type": "quantitative", "scale": {"type": "log"}, "axis": {"title": null}}, "x2": {"field": "end"}, "y": {"field": "level", "type": "quantitative", "axis": {"title": null}}}},
{"data": {"name": "gates"}, "transform": [{"filter": "datum.panel == 'B4'"}], "mark": {"type": "text", "fontSize": 19, "color": "#333"},
"encoding": {"x": {"field": "labelX", "type": "quantitative", "scale": {"type": "log"}, "axis": {"title": null}}, "y": {"field": "labelY", "type": "quantitative", "axis": {"title": null}}, "text": {"field": "percent"}}}
]}
]}
]
},
{"width": 1510, "height": 36, "view": {"stroke": null},
"layer": [
{"data": {"name": "cfseRules"}, "transform": [{"filter": "datum.row == 'B'"}], "mark": {"type": "rule", "color": "#111", "strokeWidth": 2},
"encoding": {"x": {"field": "start", "type": "quantitative", "scale": {"domain": [0, 1]}, "axis": null}, "x2": {"field": "end"}, "y": {"field": "level", "type": "quantitative", "scale": {"domain": [0, 1]}, "axis": null}}},
{"data": {"name": "cfseLabels"}, "transform": [{"filter": "datum.row == 'B'"}], "mark": {"type": "text", "fontSize": 18, "color": "#222"},
"encoding": {"x": {"field": "pos", "type": "quantitative", "axis": null}, "y": {"field": "level", "type": "quantitative", "axis": null}, "text": {"field": "label"}}}
]}
],
"spacing": 8,
"config": {
"font": "Liberation Sans",
"view": {"stroke": "#000", "strokeWidth": 1.5},
"title": {"fontSize": 19, "font": "Liberation Sans", "fontWeight": "normal", "color": "#222"},
"text": {"font": "Liberation Sans"},
"axis": {"labelFont": "Liberation Sans"}
}
}
